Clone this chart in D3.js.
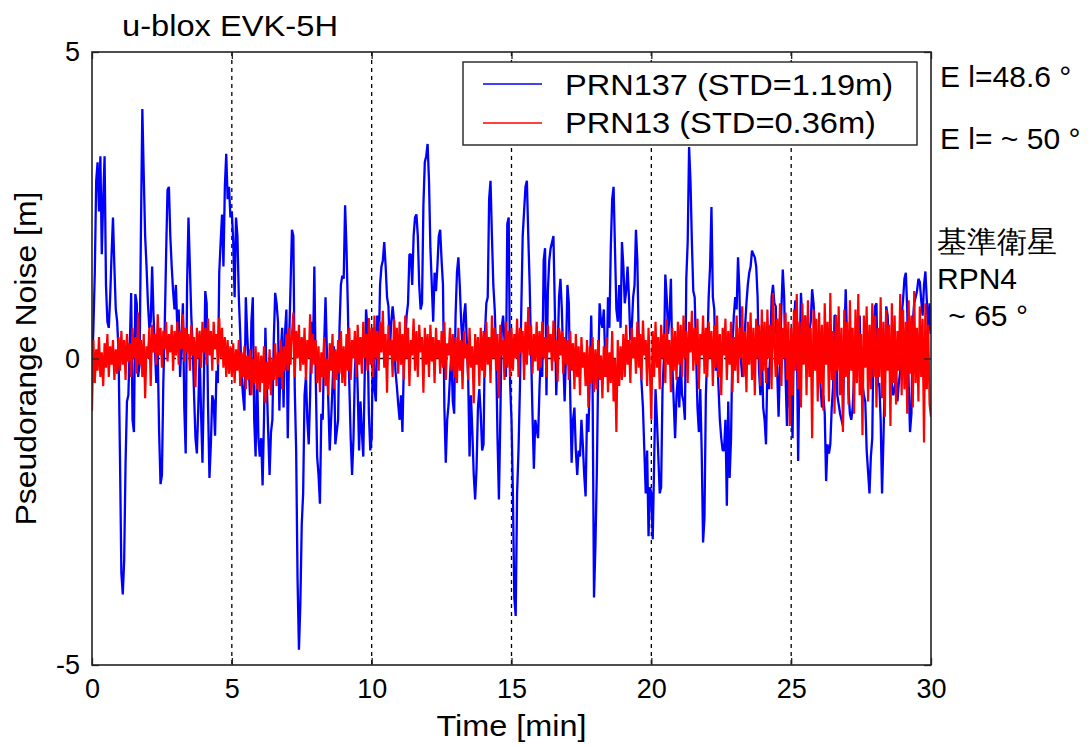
<!DOCTYPE html>
<html>
<head>
<meta charset="utf-8">
<script src="https://cdn.jsdelivr.net/npm/d3@7/dist/d3.min.js"></script>
<style>
  body { margin: 0; background: #fff; }
  text { font-family: "Liberation Sans", Arial, sans-serif; fill: #000; }
</style>
</head>
<body>
<svg id="svg"></svg>
<script>
// time step of the samples, minutes
var dt = 0.05;

var xTicks = [0, 5, 10, 15, 20, 25, 30];
var yTicks = [-5, 0, 5];
var xGrid  = [5, 10, 15, 20, 25];

var seriesNames = ["PRN137 (STD=1.19m)", "PRN13 (STD=0.36m)"];
var sideNotes   = ["E l=48.6 °", "E l= ~ 50 °", "基準衛星", "RPN4", " ~ 65 °"];

// PRN137, one row per minute (20 samples each)
var prn137 = [
  -0.2, 0.5, 1.4, 2.9, 3.2, 2.4, 3.3, 1.7, 2.6, 3.3, 1.2, 0.6, 0.5, 1.0, 1.7, 2.3, 1.5, 0.8, 0.6, 0.1,
  -1.6, -3.5, -3.85, -3.3, -1.7, -0.7, -0.6, 0.2, 1.07, -1.0, -1.2, 1.05, 0.9, -0.3, -0.1, 2.1, 4.07, 3.0, 2.0, 1.5,
  0.9, 0.5, 0.6, 1.5, 0.7, 0.15, -0.4, 0.1, -1.2, -2.05, -1.9, -0.4, 0.5, 1.7, 2.75, 2.8, 2.0, 1.5, 1.1, 0.8,
  1.2, 0.5, 0.8, -0.3, 0.3, 0.9, -0.8, -1.55, 1.2, 2.3, 1.5, 0.7, 0.2, -0.6, -1.3, -1.55, -0.8, 0.1, -0.9, -1.7,
  -0.4, 1.1, 0.9, -0.8, -1.95, -1.4, -0.6, -0.7, -1.26, -0.2, -0.4, 1.4, 1.9, 2.35, 1.5, 2.8, 3.34, 2.6, 2.8, 2.3,
  2.4, 1.9, 1.0, 2.3, 2.0, 1.0, 0.4, -0.3, -0.6, -0.85, 1.0, 0.4, -0.1, -0.6, 0.6, 1.0, -1.0, -1.6, -0.1, -1.3,
  -1.6, -1.3, -2.07, -1.0, 0.5, -0.4, -1.2, -1.9, -1.2, -1.0, 0.3, 1.07, 0.9, 0.6, -0.85, 0.1, 0.5, -0.8, 0.4, 0.8,
  -1.3, 0.3, 1.2, 2.1, 2.0, -0.5, -1.5, -3.6, -4.75, -4.0, -2.7, -2.2, -0.6, -0.3, -1.0, -1.4, -0.6, 0.6, 0.0, 1.5,
  -0.3, -1.6, -1.9, -2.37, -0.9, -1.0, 0.2, 1.0, 0.1, -0.7, -1.5, -1.0, -0.45, 0.2, -1.4, -1.2, -1.0, 0.5, 1.2, 1.35,
  1.3, 2.5, 1.8, 0.8, -0.4, -1.3, -1.9, -1.3, -0.2, 0.25, -0.5, -1.5, -0.7, -1.2, -1.6, -0.3, 0.8, 0.5, -0.9, -1.5,
  -1.3, 0.5, -0.5, -0.7, 0.7, 0.1, 1.2, 1.5, 1.6, 1.9, 1.5, 1.0, 0.85, 0.1, 0.6, 0.85, 0.6, -0.2, -0.45, -0.75,
  -1.0, -0.6, -1.2, -0.1, 0.2, 0.7, 0.9, 1.7, 1.7, 1.2, 2.0, 2.3, 2.35, 2.0, 1.2, 0.8, 0.9, 2.5, 3.2, 3.3,
  3.5, 2.9, 1.8, 1.2, 0.6, 1.4, 1.1, 1.5, 2.0, 2.1, 1.6, 1.2, -0.8, -1.7, -1.0, -0.75, -0.3, 0.1, -0.7, -0.9,
  0.7, 1.4, 1.65, 1.2, 0.6, 0.15, 0.7, 0.9, 0.3, -0.3, -1.6, -0.6, -1.2, -1.9, -2.3, -1.8, -0.8, -0.5, -0.9, -1.5,
  -1.4, 0.4, 0.9, 1.0, 2.6, 2.9, 2.0, 1.2, 0.8, 0.1, -1.3, -2.3, -1.0, 0.5, 0.7, 0.3, -0.3, 2.2, 2.3, -0.4,
  -1.0, -2.2, -3.9, -4.2, -2.2, -1.5, -0.5, 0.8, 2.0, 2.4, 2.8, 2.9, 2.0, 1.2, 0.1, -0.9, -1.8, -1.0, -1.15, -1.3,
  -0.5, 0.1, -0.3, 1.6, 1.8, -0.6, 1.1, 1.6, 1.8, 1.9, 2.0, 0.8, -0.6, 0.1, 1.0, 1.3, 0.8, 0.0, -0.7, 0.1,
  1.2, 0.9, -0.6, -1.7, -1.0, -0.8, -1.5, -1.9, -1.5, -1.6, -1.0, -1.4, -1.9, -2.25, -0.9, -1.2, -0.3, 0.7, -0.5, -3.9,
  -3.07, -1.9, -0.2, 0.9, 0.6, 0.5, 0.8, 0.0, -0.3, 1.0, 0.5, 1.8, 2.6, 2.8, 1.8, 0.8, 0.6, 1.2, 0.5, 1.9,
  1.5, 0.9, 1.1, 1.5, 1.0, 0.3, 0.5, 1.0, 1.2, 2.1, 1.6, 0.3, 0.1, -0.4, -0.8, -1.5, -2.2, -1.5, -2.9, -2.1,
  -2.2, -2.95, -1.7, -0.5, -1.0, -1.6, -2.2, -2.1, -0.5, 0.0, 1.37, 1.0, 0.4, 0.7, 1.3, -0.1, -0.7, -1.3, -0.6, -0.3,
  -0.8, 0.0, -0.6, -0.7, -1.0, 1.3, 1.9, 3.45, 2.9, 1.9, 1.1, 1.0, 0.1, -0.8, -1.2, -0.5, -1.5, -3.0, -2.6, -0.6,
  0.1, 1.0, 1.5, 2.47, 1.0, 0.8, -0.2, 0.1, -0.45, -1.0, -1.3, -1.5, -1.5, -1.0, -2.4, -0.7, -1.95, -1.3, 0.2, 0.7,
  1.0, 0.8, 1.65, 1.1, 0.0, -0.3, -0.2, 0.5, 0.9, 1.2, 1.4, 1.5, 1.76, 1.7, 1.65, 1.5, 1.0, -0.2, -0.6, 0.2,
  -0.8, -1.0, -1.4, -0.15, -0.5, 0.1, 1.0, 1.2, 0.9, 0.85, -0.2, -0.95, -0.1, 0.8, 1.45, 1.0, -0.3, -1.1, 0.3, -0.8,
  -0.5, -1.3, 0.6, 0.95, 0.5, -1.67, 0.0, 1.07, 0.6, 0.1, 0.7, 0.4, 0.0, 0.45, 0.6, 1.13, 0.9, 0.5, 0.25, 0.0,
  0.4, -0.45, -0.8, -0.6, -0.9, -2.0, -1.4, -1.55, -1.4, -0.8, -0.45, 0.7, 0.7, -0.6, -0.75, -0.9, -1.0, -1.1, 0.3, 1.13,
  0.3, -0.5, -0.9, -1.0, -0.8, -0.3, 0.0, -0.3, 0.0, 0.7, -0.5, -0.4, -0.6, -0.7, -1.5, -1.85, -2.2, -1.6, -1.3, 0.5,
  0.85, 0.9, -0.45, -0.4, -1.0, -2.2, -1.3, -0.3, 0.85, 0.7, 0.15, -0.1, -0.4, -0.6, -0.5, -0.3, -0.7, -0.4, -0.2, 0.7,
  0.95, 1.3, 1.4, 0.8, -0.4, -1.2, -0.9, 0.6, 0.9, 1.0, 1.1, 1.3, 1.25, 0.95, 0.7, 1.2, 1.42, 0.95, 0.4, 0.9,
  0.4
];

// PRN13, one row per minute (20 samples each)
var prn13 = [
  -0.85, 0.3, -0.4, 0.15, -0.2, 0.35, -0.3, 0.1, -0.45, 0.25, -0.15, 0.4, -0.3, 0.2, -0.1, 0.3, -0.35, 0.15, -0.25, 0.35,
  -0.2, 0.45, -0.1, 0.3, -0.35, 0.4, -0.05, 0.25, -0.3, 0.5, 0.0, 0.35, -0.25, 0.75, -0.1, 0.3, -0.3, 0.4, -0.65, 0.2,
  0.0, 0.5, -0.45, 0.55, 0.1, 0.4, -0.1, 0.72, 0.05, 0.5, -0.15, 0.45, 0.15, 0.6, -0.05, 0.4, 0.1, 0.55, -0.2, 0.45,
  0.05, 0.6, -0.1, 0.45, 0.15, 0.72, -0.05, 0.5, 0.1, 0.4, -0.2, 0.55, 0.05, 0.35, -0.47, 0.5, 0.0, 0.45, -0.15, 0.6,
  0.1, 0.5, -0.1, 0.65, 0.05, 0.45, -0.2, 0.6, 0.15, 0.4, -0.1, 0.66, 0.0, 0.5, -0.15, 0.35, -0.3, 0.3, -0.25, 0.2,
  -0.3, 0.25, -0.4, 0.15, -0.2, 0.3, -0.45, 0.1, -0.3, 0.2, -0.5, 0.05, -0.35, 0.15, -0.6, 0.0, -0.4, 0.2, -0.5, 0.1,
  -0.55, 0.05, -0.4, 0.2, -0.73, -0.05, -0.5, 0.15, -0.6, 0.0, -0.35, 0.25, -0.45, 0.1, -0.3, 0.3, -0.5, 0.2, -0.2, 0.4,
  -0.2, 0.5, -0.1, 0.4, 0.75, -0.3, 0.45, 0.0, 0.55, -0.2, 0.35, -0.1, 0.5, -0.35, 0.3, 0.0, 0.72, -0.25, 0.4, -0.1,
  0.3, -0.4, 0.2, -0.55, 0.1, -0.3, 0.35, -0.45, 0.0, -0.6, 0.25, -0.2, 0.4, -0.5, 0.15, -0.35, 0.3, -0.25, 0.45, -0.4,
  0.2, -0.45, 0.4, -0.2, 0.5, -0.35, 0.3, 0.0, 0.45, -0.3, 0.55, -0.1, 0.35, -0.25, 0.6, 0.0, 0.4, -0.2, 0.66, -0.1,
  0.5, -0.3, 0.7, 0.0, 0.45, -0.2, 0.6, 0.1, 0.78, -0.15, 0.4, -0.56, 0.55, 0.05, 0.3, -0.3, 0.65, -0.05, 0.5, -0.25,
  0.6, -0.1, 0.4, -0.35, 0.7, 0.0, 0.5, -0.45, 0.3, 0.05, 0.65, -0.2, 0.45, -0.3, 0.55, 0.1, 0.35, -0.56, 0.5, -0.1,
  0.4, -0.3, 0.55, -0.05, 0.35, -0.4, 0.5, 0.0, 0.3, -0.25, 0.45, -0.15, 0.6, -0.35, 0.25, 0.05, 0.5, -0.2, 0.4, -0.3,
  0.35, -0.4, 0.5, -0.2, 0.3, -0.5, 0.45, 0.0, 0.25, -0.35, 0.5, -0.15, 0.2, -0.73, 0.4, -0.1, 0.35, -0.45, 0.5, -0.2,
  0.45, -0.3, 0.6, -0.1, 0.35, -0.4, 0.7, 0.0, 0.5, -0.2, 0.4, -0.65, 0.55, 0.05, 0.3, -0.35, 0.6, -0.15, 0.45, -0.3,
  0.5, -0.2, 0.4, 0.0, 0.65, -0.3, 0.5, 0.1, 0.45, -0.35, 0.6, -0.1, 0.84, 0.05, 0.55, -0.25, 0.4, -0.05, 0.6, -0.2,
  0.45, -0.15, 0.6, 0.0, 0.35, -0.3, 0.55, 0.1, 0.4, -0.2, 0.62, -0.05, 0.3, -0.38, 0.5, 0.05, 0.45, -0.25, 0.35, -0.1,
  0.3, -0.35, 0.45, -0.2, 0.25, -0.5, 0.4, -0.3, 0.2, -0.6, 0.35, -0.15, 0.1, -0.45, 0.3, -0.8, 0.2, -0.4, 0.35, -0.55,
  0.15, -0.5, 0.3, -0.35, 0.05, -0.65, 0.2, -0.3, 0.35, -0.55, 0.1, -0.4, 0.45, -0.7, 0.0, -1.2, 0.3, -0.45, 0.2, -0.35,
  0.4, -0.3, 0.55, -0.1, 0.3, -0.4, 0.5, 0.0, 0.35, -0.25, 0.6, -0.15, 0.4, -0.35, 0.62, 0.05, 0.3, -0.45, 0.5, -0.2,
  -1.0, 0.45, -0.3, 0.6, -0.15, 0.35, -0.5, 0.55, 0.0, 0.4, -0.4, 0.65, -0.1, 0.3, -0.55, 0.5, -0.2, 0.45, -0.35, 0.6,
  -0.1, 0.55, -0.3, 0.7, 0.0, 0.45, -0.4, 0.6, 0.1, 0.78, -0.2, 0.5, -0.1, 0.65, -0.5, 0.4, 0.05, 0.7, -0.25, 0.5,
  -0.3, 0.6, 0.0, 0.45, -0.45, 0.55, -0.15, 0.7, -0.3, 0.4, -0.6, 0.5, 0.05, 0.65, -0.35, 0.45, -0.1, 0.6, -0.55, 0.35,
  -0.2, 0.7, -0.4, 0.5, 0.0, 0.85, -0.3, 0.45, -0.55, 0.6, -0.1, 0.75, -0.35, 0.5, -0.6, 0.65, 0.0, 0.55, -0.45, 0.8,
  -0.2, 0.6, -0.4, 0.8, 0.0, 0.55, -0.5, 1.07, 0.2, -0.3, 0.65, -0.1, 0.9, -0.45, 0.5, 0.0, 0.75, -0.35, 0.6, -1.1,
  0.5, -0.6, 0.8, -0.2, 1.05, -0.5, 0.6, -0.8, 0.9, -0.1, 0.7, -0.6, 0.95, -0.3, 0.5, -1.3, 0.8, -0.2, 0.65, -0.7,
  0.75, -0.4, 0.55, -0.85, 0.9, -0.1, 0.6, -0.7, 1.07, -0.35, 0.45, -0.9, 0.7, -0.2, 0.85, -0.6, 0.5, -1.2, 0.8, -0.3,
  0.6, -0.75, 0.95, -0.2, 0.5, -0.9, 0.8, -0.4, 1.05, -0.6, 0.4, -1.25, 0.7, -0.15, 0.85, -0.7, 0.55, -0.5, 0.9, -0.3,
  0.7, -0.8, 0.5, -0.3, 1.0, -0.65, 0.6, -0.95, 0.8, -0.2, 0.55, -1.1, 0.9, -0.4, 0.7, -0.75, 0.45, -0.2, 1.05, -0.6,
  0.8, -0.5, 0.6, -0.9, 0.95, -0.25, 0.7, -0.8, 1.1, -0.4, 0.5, -0.7, 0.85, -0.3, 0.65, -1.37, 0.9, -0.5, 0.55, -0.75,
  -0.95
];

var seriesColors = ["#0000ff", "#ff0000"];
var seriesWidths = [2.3, 2.2];


var outer_width  = 1088;
var outer_height = 745;
var margin = {top: 52, right: 157, bottom: 80, left: 92};
var width  = outer_width  - margin.left - margin.right;
var height = outer_height - margin.top  - margin.bottom;

var svg = d3.select("#svg")
    .attr("width",  outer_width)
    .attr("height", outer_height);

svg.append("rect")
    .attr("width", outer_width)
    .attr("height", outer_height)
    .attr("fill", "#fff");

var g = svg.append("g")
    .attr("transform", "translate(" + margin.left + "," + margin.top + ")");

var x = d3.scaleLinear().domain([0, 30]).range([0, width]);
var y = d3.scaleLinear().domain([-5, 5]).range([height, 0]);

g.append("clipPath").attr("id", "clip")
  .append("rect").attr("width", width).attr("height", height);

// dashed grid (vertical ones + zero line)
g.selectAll(".vgrid")
    .data(xGrid)
    .enter().append("line")
    .attr("class", "vgrid")
    .attr("x1", function(d) { return x(d); })
    .attr("x2", function(d) { return x(d); })
    .attr("y1", 0)
    .attr("y2", height)
    .attr("stroke", "#000")
    .attr("stroke-width", 1.3)
    .attr("stroke-dasharray", "4,4");

g.append("line")
    .attr("x1", 0).attr("x2", width)
    .attr("y1", y(0)).attr("y2", y(0))
    .attr("stroke", "#000")
    .attr("stroke-width", 1.3)
    .attr("stroke-dasharray", "4,4");

// the two traces
var line = d3.line()
    .x(function(d, i) { return x(i * dt); })
    .y(function(d) { return y(d); });

var traces = [prn137, prn13];
g.append("g")
    .attr("clip-path", "url(#clip)")
    .selectAll("path")
    .data(traces)
    .enter().append("path")
    .attr("d", line)
    .attr("fill", "none")
    .attr("stroke", function(d, i) { return seriesColors[i]; })
    .attr("stroke-width", function(d, i) { return seriesWidths[i]; })
    .attr("stroke-linejoin", "bevel");

// axes (ticks inward on all four sides, MATLAB style)
var xAxis = d3.axisBottom(x).tickValues(xTicks).tickSize(-7).tickPadding(14);
var yAxis = d3.axisLeft(y).tickValues(yTicks).tickSize(-7).tickPadding(12)
    .tickFormat(function(d) { return String(d); });

var gx = g.append("g")
    .attr("transform", "translate(0," + height + ")")
    .call(xAxis);
var gy = g.append("g").call(yAxis);

g.append("g").call(d3.axisTop(x).tickValues(xTicks).tickSize(-7).tickFormat(""));
g.append("g").attr("transform", "translate(" + width + ",0)")
    .call(d3.axisRight(y).tickValues(yTicks).tickSize(-7).tickFormat(""));

g.selectAll(".domain").attr("stroke", "none");
g.selectAll(".tick line").attr("stroke", "#222").attr("stroke-width", 1.3);
gx.selectAll("text").attr("font-size", 27).attr("font-family", "Liberation Sans, Arial, sans-serif").attr("fill", "#000");
gy.selectAll("text").attr("font-size", 27).attr("font-family", "Liberation Sans, Arial, sans-serif").attr("fill", "#000");

g.append("rect")
    .attr("width", width)
    .attr("height", height)
    .attr("fill", "none")
    .attr("stroke", "#222")
    .attr("stroke-width", 1.6);

// legend
var lg = svg.append("g").attr("transform", "translate(463,62)");
lg.append("rect")
    .attr("width", 454)
    .attr("height", 83)
    .attr("fill", "#fff")
    .attr("stroke", "#222")
    .attr("stroke-width", 1.4);

lg.selectAll(".lline")
    .data(seriesNames)
    .enter().append("line")
    .attr("x1", 20).attr("x2", 79)
    .attr("y1", function(d, i) { return 22 + i * 39; })
    .attr("y2", function(d, i) { return 22 + i * 39; })
    .attr("stroke", function(d, i) { return seriesColors[i]; })
    .attr("stroke-width", 1.4);

lg.selectAll(".ltext")
    .data(seriesNames)
    .enter().append("text")
    .attr("x", 102)
    .attr("y", function(d, i) { return 33 + i * 38; })
    .attr("font-size", 30)
    .attr("textLength", function(d, i) { return i ? 311 : 328; })
    .attr("lengthAdjust", "spacingAndGlyphs")
    .text(function(d) { return d; });

// titles
svg.append("text")
    .attr("x", 122).attr("y", 36)
    .attr("font-size", 29)
    .attr("textLength", 216)
    .attr("lengthAdjust", "spacingAndGlyphs")
    .text("u-blox EVK-5H");

svg.append("text")
    .attr("x", margin.left + width / 2).attr("y", 736)
    .attr("text-anchor", "middle")
    .attr("font-size", 30)
    .attr("textLength", 150)
    .attr("lengthAdjust", "spacingAndGlyphs")
    .text("Time [min]");

svg.append("text")
    .attr("transform", "translate(36," + (margin.top + height / 2) + ") rotate(-90)")
    .attr("text-anchor", "middle")
    .attr("font-size", 30)
    .attr("textLength", 334)
    .attr("lengthAdjust", "spacingAndGlyphs")
    .text("Pseudorange Noise [m]");

// notes on the right
var notePos = [[940, 87], [940, 149], [937, 252], [937, 289], [940, 326]];
svg.selectAll(".note")
    .data(sideNotes)
    .enter().append("text")
    .attr("class", "note")
    .attr("x", function(d, i) { return notePos[i][0]; })
    .attr("y", function(d, i) { return notePos[i][1]; })
    .attr("font-size", 30)
    .attr("font-family", function(d, i) { return i == 2 ? "Noto Sans CJK JP, sans-serif" : "Liberation Sans, Arial, sans-serif"; })
    .style("white-space", "pre")
    .text(function(d) { return d; });
</script>
</body>
</html>
